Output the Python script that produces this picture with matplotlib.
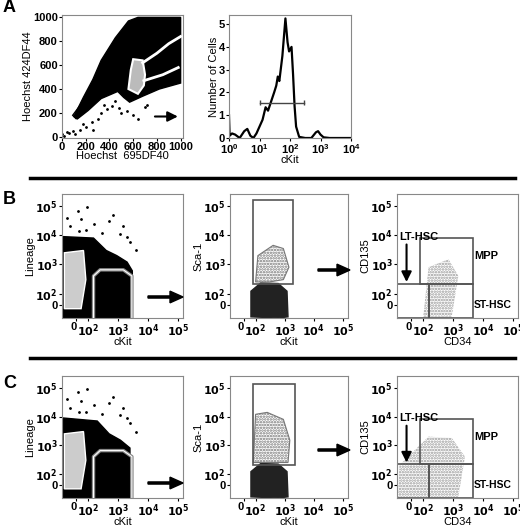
import numpy as np
import matplotlib.pyplot as plt
from matplotlib.patches import Polygon, Rectangle, FancyArrow

plt.rcParams['font.family'] = ['Liberation Sans', 'DejaVu Sans']
plt.rcParams['font.weight'] = 'bold'
plt.rcParams['mathtext.default'] = 'bf'
plt.rcParams['hatch.linewidth'] = 1.2

# --- histogram (panel A right): log10(cKit) vs number of cells
hist_logx = [0.0, 0.02, 0.1, 0.2, 0.35, 0.5, 0.6, 0.7, 0.8, 0.9, 1.0, 1.1, 1.2, 1.28,
             1.38, 1.48, 1.55, 1.6, 1.65, 1.75, 1.85, 1.92, 1.97, 2.05, 2.1, 2.15,
             2.2, 2.3, 2.5, 2.7, 2.85, 2.92, 3.0, 3.1, 3.3, 4.0]
hist_y = [1.0, 0.1, 0.2, 0.15, 0.0, 0.3, 0.4, 0.1, 0.0, 0.2, 0.5, 0.8, 1.35, 1.2,
          1.6, 2.0, 2.3, 2.7, 2.5, 3.6, 5.25, 4.2, 3.8, 4.0, 2.8, 1.4,
          0.5, 0.05, 0.0, 0.0, 0.25, 0.3, 0.15, 0.03, 0.0, 0.0]
hist_gate = [10, 280]
hist_gate_y = 1.55

# --- panel A left: Hoechst blue vs red (black density region)
sp_x = [100, 180, 260, 330, 450, 560, 640, 1000, 1000, 820, 680, 570, 520, 470, 330, 220, 130]
sp_y = [170, 330, 480, 640, 830, 970, 1000, 1000, 450, 400, 340, 290, 330, 380, 320, 220, 150]
sp_dots_x = [0, 20, 60, 90, 150, 200, 250, 300, 330, 380, 420, 450, 500, 600, 700, 180, 260,
             350, 480, 550, 640, 720, 40, 110]
sp_dots_y = [20, 10, 30, 50, 60, 80, 120, 150, 200, 230, 260, 300, 200, 180, 250, 110, 60,
             270, 240, 220, 150, 270, 40, 20]
sp_contour_x = [560, 580, 600, 680, 700, 690, 640, 560]
sp_contour_y = [400, 560, 650, 640, 520, 430, 360, 400]
sp_arm_x = [680, 800, 900, 1000]
sp_arm_y = [620, 700, 780, 840]
sp_arm2_x = [690, 850, 980]
sp_arm2_y = [470, 520, 580]
sp_gate_x = [90, 150, 180, 120]
sp_gate_y = [180, 260, 230, 150]

# --- biexponential panels: gates and density outlines (data units)
lin_x1 = [-120, -120, 150, 400, 900, 2000, 3000, 3000]
lin_y1 = [-110, 9000, 8000, 3000, 2000, 1200, 600, -110]
lin_x2 = [-120, -120, 200, 500, 1200, 2500, 2500]
lin_y2 = [-110, 9000, 7000, 2500, 1500, 800, -110]
lin_dots_x = [-50, 10, 80, 40, 90, 300, 1500, 500, 2500, 1200, 20, 700, 4000, 2000, -80, 150]
lin_dots_y = [20000, 70000, 15000, 35000, 90000, 12000, 20000, 30000, 6000, 11000, 14000,
              50000, 3000, 9000, 40000, 25000]
lin_gate_x = [150, 150, 250, 1500, 2900, 2900]
lin_gate_y = [-110, 400, 650, 650, 400, -110]

sca_gate_b = (75, 2000, 210, 160000)
sca_gate_c = (80, 2200, 200, 140000)
sca_blob_bx = [60, 60, 150, 600, 1200, 1300, 600]
sca_blob_by = [-100, 120, 230, 220, 120, -100, -110]
sca_up_bx = [100, 120, 400, 900, 1400, 900, 300]
sca_up_by = [250, 2000, 4500, 3500, 800, 300, 250]
sca_up_cx = [80, 100, 250, 900, 1500, 1300, 400]
sca_up_cy = [250, 12000, 14000, 8000, 1500, 250, 250]

lt_gate = (-120, 150, -110, 220)
mpp_gate = (70, 4500, 220, 8000)
st_gate = (150, 4500, -110, 220)
cd_cloud_bx = [100, 150, 700, 1500, 900, 300]
cd_cloud_by = [-100, 800, 1500, 400, -100, -100]
cd_cloud_cx = [-110, -100, 150, 900, 2500, 1500, 300]
cd_cloud_cy = [-100, 200, 2000, 1800, 400, -100, -100]


def fwd(v):
    v = np.asarray(v, dtype=float)
    out = v / 100 * 0.4
    big = v > 100
    out[big] = 0.4 + np.log10(v[big] / 100)
    return out


def inv(d):
    d = np.asarray(d, dtype=float)
    out = d / 0.4 * 100
    big = d > 0.4
    out[big] = 100 * 10 ** (d[big] - 0.4)
    return out


fig = plt.figure(figsize=(5.2, 5.3), dpi=100)
W, H = 520, 530


def add_ax(x0, y0, x1, y1):
    ax = fig.add_axes([x0 / W, 1 - y1 / H, (x1 - x0) / W, (y1 - y0) / H])
    for s in ax.spines.values():
        s.set_color('#888888')
    ax.tick_params(labelsize=8, length=2, pad=1)
    return ax


def biexp(ax, xlabel, ylabel):
    for setscale in (ax.set_xscale, ax.set_yscale):
        setscale('function', functions=(fwd, inv))
    ax.set_xlim(-120, 1.5e5)
    ax.set_ylim(-110, 2.6e5)
    ticks = [0, 100, 1e3, 1e4, 1e5]
    labs = ['0', '$10^2$', '$10^3$', '$10^4$', '$10^5$']
    ax.set_xticks(ticks, labs)
    ax.set_yticks(ticks, labs)
    ax.xaxis.get_ticklabels()[0].set_horizontalalignment('right')
    ax.set_xlabel(xlabel, fontsize=8, labelpad=-1)
    ax.set_ylabel(ylabel, fontsize=8, labelpad=0)


def arrow(x, y, dx):
    fig.patches.append(FancyArrow(x / W, 1 - y / H, dx / W, 0, width=0.004,
                                  head_width=0.022, head_length=0.025,
                                  length_includes_head=True, color='black',
                                  transform=fig.transFigure))


# Panel A left
ax = add_ax(62, 15, 183, 138)
ax.add_patch(Polygon(list(zip(sp_x, sp_y)), color='black'))
ax.scatter(sp_dots_x, sp_dots_y, s=1, color='black')
ax.add_patch(Polygon(list(zip(sp_contour_x, sp_contour_y)), fc='#bbbbbb', ec='white', lw=1.5))
ax.plot(sp_arm_x, sp_arm_y, color='white', lw=2)
ax.plot(sp_arm2_x, sp_arm2_y, color='white', lw=2)
ax.add_patch(Polygon(list(zip(sp_gate_x, sp_gate_y)), fill=False, ec='black', lw=1))
ax.set_xlim(0, 1020)
ax.set_ylim(-10, 1020)
ax.set_xticks([0, 200, 400, 600, 800, 1000])
ax.set_yticks([0, 200, 400, 600, 800, 1000])
ax.set_xlabel('Hoechst  695DF40', fontsize=8, labelpad=-1)
ax.set_ylabel('Hoechst 424DF44', fontsize=8, labelpad=0)
ax.annotate('', xy=(1000, 170), xytext=(760, 170),
            arrowprops=dict(arrowstyle='-|>', color='black', lw=1.5, mutation_scale=15))

# Panel A right histogram
ax = add_ax(229, 15, 351, 138)
ax.plot(10 ** np.array(hist_logx), hist_y, color='black', lw=1.6)
ax.set_xscale('log')
ax.set_xlim(1, 1e4)
ax.set_ylim(0, 5.4)
ax.set_xticks([1, 10, 100, 1e3, 1e4])
ax.minorticks_off()
ax.set_yticks([0, 1, 2, 3, 4, 5])
ax.errorbar(hist_gate, [hist_gate_y] * 2, yerr=0.12, color='#444444', lw=1, capsize=0)
ax.set_xlabel('cKit', fontsize=8, labelpad=-1)
ax.set_ylabel('Number of Cells', fontsize=8, labelpad=0)

rows = [(194, 318, lin_x1, lin_y1, sca_gate_b, sca_up_bx, sca_up_by, cd_cloud_bx, cd_cloud_by),
        (376, 498, lin_x2, lin_y2, sca_gate_c, sca_up_cx, sca_up_cy, cd_cloud_cx, cd_cloud_cy)]
for (y0, y1, lx, ly, sg, ux, uy, cx, cy) in rows:
    ax = add_ax(62, y0, 183, y1)
    ax.add_patch(Polygon(list(zip(lx, ly)), color='black'))
    ax.scatter(lin_dots_x, lin_dots_y, s=1, color='black')
    ax.add_patch(Polygon(list(zip([-100, -100, 60, 80, 40], [-30, 2500, 3000, 300, -30])),
                         fc='#cccccc', ec='white', lw=1))
    ax.plot(lin_gate_x, lin_gate_y, color='#888888', lw=2.5)
    ax.plot(lin_gate_x, lin_gate_y, color='white', lw=0.8)
    biexp(ax, 'cKit', 'Lineage')

    ax = add_ax(230, y0, 348, y1)
    ax.add_patch(Polygon(list(zip(sca_blob_bx, sca_blob_by)), color='#222222'))
    ax.add_patch(Polygon(list(zip(ux, uy)), fc='none', ec='#777777', hatch='......', lw=0.8))
    ax.add_patch(Rectangle((sg[0], sg[2]), sg[1] - sg[0], sg[3] - sg[2],
                           fill=False, ec='#555555', lw=1.2))
    biexp(ax, 'cKit', 'Sca-1')

    ax = add_ax(397, y0, 518, y1)
    ax.add_patch(Polygon(list(zip(cx, cy)), fc='none', ec='#999999', hatch='......', lw=0))
    for g in (lt_gate, mpp_gate, st_gate):
        ax.add_patch(Rectangle((g[0], g[2]), g[1] - g[0], g[3] - g[2],
                               fill=False, ec='#555555', lw=1.2))
    ax.annotate('', xy=(-40, 200), xytext=(-40, 6000),
                arrowprops=dict(arrowstyle='-|>', color='black', lw=1.5, mutation_scale=15))
    ax.text(-100, 7000, 'LT-HSC', fontsize=8)
    ax.text(5000, 1500, 'MPP', fontsize=8)
    ax.text(5000, -20, 'ST-HSC', fontsize=7.5)
    biexp(ax, 'CD34', 'CD135')

arrow(148, 297, 35)
arrow(318, 270, 32)
arrow(148, 483, 35)
arrow(318, 450, 32)

for y in (178, 358):
    fig.add_artist(plt.Line2D([30 / W, 515 / W], [1 - y / H] * 2, color='black', lw=2.5))
for lab, y in (('A', 8), ('B', 200), ('C', 384)):
    fig.text(3 / W, 1 - y / H, lab, fontsize=13, fontweight='bold', va='center')

fig.savefig('out.png', dpi=100)
